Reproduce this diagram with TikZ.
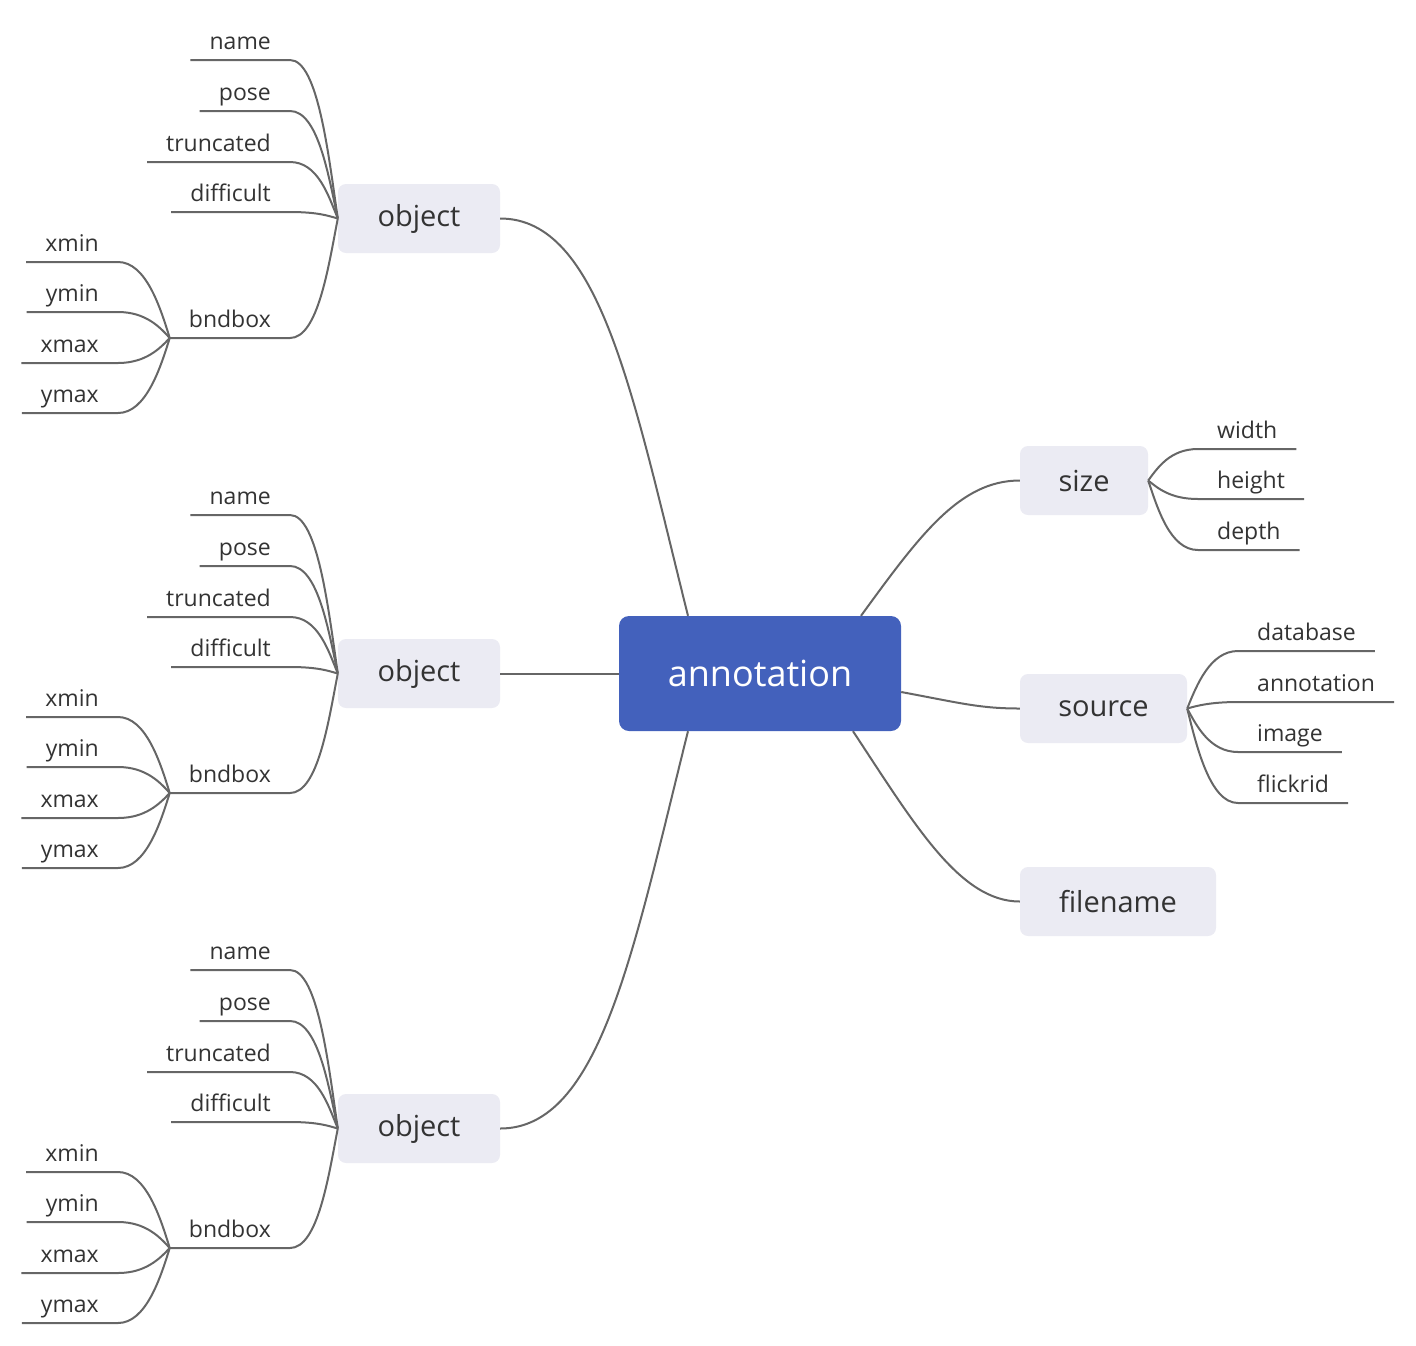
\documentclass[tikz,border=0pt]{standalone}
\usepackage{fontspec}
\setmainfont{Open Sans}
\usepackage{tikz}
\usetikzlibrary{calc}
\definecolor{rootblue}{HTML}{4361BC}
\definecolor{topicbg}{HTML}{EBEBF3}
\definecolor{linegray}{HTML}{666666}
\definecolor{txt}{HTML}{333333}

\begin{document}
\begin{tikzpicture}[
    x=1pt, y=-1pt,
    conn/.style={linegray, line width=2pt},
    root/.style={fill=rootblue, text=white, rounded corners=10pt,
        minimum height=115pt, font=\fontsize{36}{40}\selectfont},
    topic/.style={fill=topicbg, text=txt, rounded corners=8pt,
        minimum height=69pt, font=\fontsize{29}{33}\selectfont},
    leaf/.style={text=txt, inner xsep=19pt, inner ysep=10pt, text depth=0pt,
        font=\fontsize{23}{27}\selectfont},
    branch/.style={to path={.. controls ($(\tikztostart)!.4!(\tikztostart |- \tikztotarget)+({-(#1)/3},0)$)
        and ($(\tikztotarget)+(#1,0)$) .. (\tikztotarget)}},
]
\useasboundingbox (0,0) rectangle (1416,1345);

% =============================================
% ROOT
% =============================================
\node[root, minimum width=282pt] (ann) at (760,673.5) {annotation};
\coordinate (a1) at ($(ann.north)+(-72,0)$);
\coordinate (a2) at ($(ann.south)+(-72,0)$);
\coordinate (a3) at ($(ann.north)+(101,0)$);
\coordinate (a4) at ($(ann.east)+(0,18.5)$);
\coordinate (a5) at ($(ann.south)+(93,0)$);

% =============================================
% OBJECT 1 (top)
% =============================================
\node[topic, minimum width=162pt] (obj1) at (419,218.5) {object};
\node[leaf, anchor=south east] (name1)  at (290,60)  {name};
\node[leaf, anchor=south east] (pose1)  at (290,111) {pose};
\node[leaf, anchor=south east] (trunc1) at (290,162) {truncated};
\node[leaf, anchor=south east] (diff1)  at (290,212) {difficult};
\node[leaf, anchor=south east] (bbox1)  at (290,338) {bndbox};
\node[leaf, anchor=south east] (xmin1)  at (118,262) {xmin};
\node[leaf, anchor=south east] (ymin1)  at (118,312) {ymin};
\node[leaf, anchor=south east] (xmax1)  at (118,363) {xmax};
\node[leaf, anchor=south east] (ymax1)  at (118,413) {ymax};

\draw[conn] (obj1.west) to[branch=28] (name1.south east) -- (name1.south west);
\draw[conn] (obj1.west) to[branch=28] (pose1.south east) -- (pose1.south west);
\draw[conn] (obj1.west) to[branch=28] (trunc1.south east) -- (trunc1.south west);
\draw[conn] (obj1.west) to[branch=28] (diff1.south east) -- (diff1.south west);
\draw[conn] (obj1.west) to[branch=28] (bbox1.south east) -- (bbox1.south west);
\draw[conn] (bbox1.south west) to[branch=28] (xmin1.south east) -- (xmin1.south west);
\draw[conn] (bbox1.south west) to[branch=28] (ymin1.south east) -- (ymin1.south west);
\draw[conn] (bbox1.south west) to[branch=28] (xmax1.south east) -- (xmax1.south west);
\draw[conn] (bbox1.south west) to[branch=28] (ymax1.south east) -- (ymax1.south west);

% =============================================
% OBJECT 2 (middle)
% =============================================
\node[topic, minimum width=162pt] (obj2) at (419,673.5) {object};
\node[leaf, anchor=south east] (name2)  at (290,515) {name};
\node[leaf, anchor=south east] (pose2)  at (290,566) {pose};
\node[leaf, anchor=south east] (trunc2) at (290,617) {truncated};
\node[leaf, anchor=south east] (diff2)  at (290,667) {difficult};
\node[leaf, anchor=south east] (bbox2)  at (290,793) {bndbox};
\node[leaf, anchor=south east] (xmin2)  at (118,717) {xmin};
\node[leaf, anchor=south east] (ymin2)  at (118,767) {ymin};
\node[leaf, anchor=south east] (xmax2)  at (118,818) {xmax};
\node[leaf, anchor=south east] (ymax2)  at (118,868) {ymax};

\draw[conn] (obj2.west) to[branch=28] (name2.south east) -- (name2.south west);
\draw[conn] (obj2.west) to[branch=28] (pose2.south east) -- (pose2.south west);
\draw[conn] (obj2.west) to[branch=28] (trunc2.south east) -- (trunc2.south west);
\draw[conn] (obj2.west) to[branch=28] (diff2.south east) -- (diff2.south west);
\draw[conn] (obj2.west) to[branch=28] (bbox2.south east) -- (bbox2.south west);
\draw[conn] (bbox2.south west) to[branch=28] (xmin2.south east) -- (xmin2.south west);
\draw[conn] (bbox2.south west) to[branch=28] (ymin2.south east) -- (ymin2.south west);
\draw[conn] (bbox2.south west) to[branch=28] (xmax2.south east) -- (xmax2.south west);
\draw[conn] (bbox2.south west) to[branch=28] (ymax2.south east) -- (ymax2.south west);

% =============================================
% OBJECT 3 (bottom)
% =============================================
\node[topic, minimum width=162pt] (obj3) at (419,1128.5) {object};
\node[leaf, anchor=south east] (name3)  at (290,970)  {name};
\node[leaf, anchor=south east] (pose3)  at (290,1021) {pose};
\node[leaf, anchor=south east] (trunc3) at (290,1072) {truncated};
\node[leaf, anchor=south east] (diff3)  at (290,1122) {difficult};
\node[leaf, anchor=south east] (bbox3)  at (290,1248) {bndbox};
\node[leaf, anchor=south east] (xmin3)  at (118,1172) {xmin};
\node[leaf, anchor=south east] (ymin3)  at (118,1222) {ymin};
\node[leaf, anchor=south east] (xmax3)  at (118,1273) {xmax};
\node[leaf, anchor=south east] (ymax3)  at (118,1323) {ymax};

\draw[conn] (obj3.west) to[branch=28] (name3.south east) -- (name3.south west);
\draw[conn] (obj3.west) to[branch=28] (pose3.south east) -- (pose3.south west);
\draw[conn] (obj3.west) to[branch=28] (trunc3.south east) -- (trunc3.south west);
\draw[conn] (obj3.west) to[branch=28] (diff3.south east) -- (diff3.south west);
\draw[conn] (obj3.west) to[branch=28] (bbox3.south east) -- (bbox3.south west);
\draw[conn] (bbox3.south west) to[branch=28] (xmin3.south east) -- (xmin3.south west);
\draw[conn] (bbox3.south west) to[branch=28] (ymin3.south east) -- (ymin3.south west);
\draw[conn] (bbox3.south west) to[branch=28] (xmax3.south east) -- (xmax3.south west);
\draw[conn] (bbox3.south west) to[branch=28] (ymax3.south east) -- (ymax3.south west);

% =============================================
% RIGHT SIDE: size, source, filename
% =============================================
\node[topic, minimum width=128pt] (size) at (1084,480.5) {size};
\node[leaf, anchor=south west] (width)  at (1198,449) {width};
\node[leaf, anchor=south west] (height) at (1198,499) {height};
\node[leaf, anchor=south west] (depth)  at (1198,550) {depth};

\draw[conn] (size.east) to[branch=-28] (width.south west) -- (width.south east);
\draw[conn] (size.east) to[branch=-28] (height.south west) -- (height.south east);
\draw[conn] (size.east) to[branch=-28] (depth.south west) -- (depth.south east);

\node[topic, minimum width=167pt] (source) at (1103.5,708.5) {source};
\node[leaf, anchor=south west] (dbase)  at (1238,651) {database};
\node[leaf, anchor=south west] (sannot) at (1238,702) {annotation};
\node[leaf, anchor=south west] (image)  at (1238,752) {image};
\node[leaf, anchor=south west] (flick)  at (1238,803) {flickrid};

\draw[conn] (source.east) to[branch=-28] (dbase.south west) -- (dbase.south east);
\draw[conn] (source.east) to[branch=-28] (sannot.south west) -- (sannot.south east);
\draw[conn] (source.east) to[branch=-28] (image.south west) -- (image.south east);
\draw[conn] (source.east) to[branch=-28] (flick.south west) -- (flick.south east);

\node[topic, minimum width=196pt] (fname) at (1118,901.5) {filename};

% =============================================
% ROOT CONNECTORS
% =============================================
\draw[conn] (a1) .. controls +(-55,-220) and +(100,0) .. (obj1.east);
\draw[conn] (ann.west) -- (obj2.east);
\draw[conn] (a2) .. controls +(-55,220) and +(100,0) .. (obj3.east);
\draw[conn] (a3) .. controls +(59,-81) and +(-60,0) .. (size.west);
\draw[conn] (a4) .. controls +(59,11) and +(-40,0) .. (source.west);
\draw[conn] (a5) .. controls +(62,94) and +(-60,0) .. (fname.west);

\end{tikzpicture}
\end{document}
